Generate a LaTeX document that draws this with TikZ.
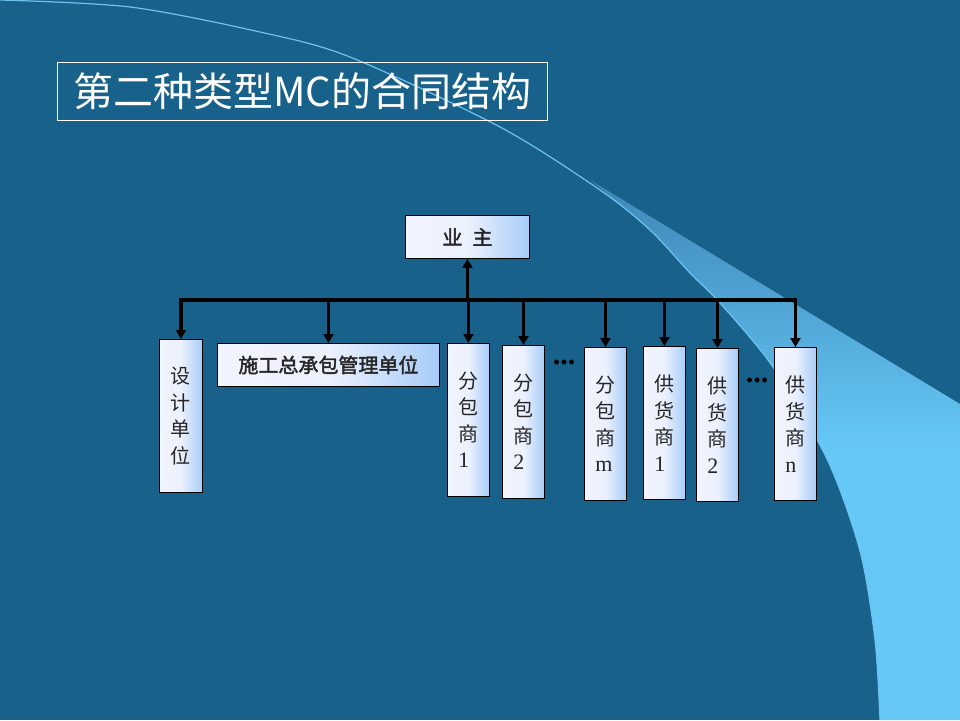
\documentclass[tikz,border=0pt]{standalone}
\usepackage{fontspec}
\setmainfont{Liberation Serif}
\newfontfamily\cjk{Noto Sans CJK SC}
\newfontfamily\cjkbold{Noto Sans CJK SC}[FakeBold=2]
\usetikzlibrary{arrows.meta,positioning,calc}

\definecolor{slidebg}{HTML}{17618A}
\definecolor{wedgemid}{HTML}{3E87B8}
\definecolor{wedgelight}{HTML}{66C8F7}
\definecolor{curveline}{HTML}{6CC4EE}
\definecolor{boxpale}{HTML}{F2F4FE}
\definecolor{boxblue}{HTML}{A6CCF8}

\begin{document}
\begin{tikzpicture}[
  x=1pt, y=-1pt,
  unit/.style={draw=black, line width=0.9pt, left color=boxpale, right color=boxblue,
    middle color=boxpale!92!boxblue, inner sep=0pt, text=black!85},
  tallbox/.style={unit, anchor=north west, minimum width=42pt, minimum height=153pt,
    font=\cjk\fontsize{20}{26.5}\selectfont, align=left, text width=20pt},
  widebox/.style={unit, anchor=north west, minimum height=43pt,
    font=\cjkbold\fontsize{20}{24}\selectfont},
  titlebox/.style={draw=white, line width=0.8pt, text=white, minimum width=490pt,
    minimum height=58pt, font=\cjk\fontsize{40}{44}\selectfont},
  dotsnode/.style={font=\bfseries\fontsize{30}{30}\selectfont, text=black, inner sep=0pt},
  arr/.style={line width=3.5pt, -{Triangle[length=9pt,width=10pt]}},
  busline/.style={line width=4pt, line cap=rect},
]
% slide background
\fill[slidebg] (0,0) rectangle (960,720);
\useasboundingbox (0,0) rectangle (960,720);
\shade[top color=wedgemid, bottom color=wedgelight, middle color=wedgelight]
  (590,180) -- (960,404) -- (960,720) -- (880,720)
  -- plot[smooth] coordinates {(880,720) (875,640) (860,551) (827,459) (773,367)
     (720,303) (690,273) (650,230) (590,180)} -- cycle;
\draw[curveline, line width=1.2pt] plot[smooth] coordinates {(0,0) (130,7) (260,32)
  (350,57) (500,127) (600,190) (650,230) (690,273) (720,303) (773,367) (827,459)
  (860,551) (875,640) (880,720)};

\node[titlebox] (title) at (302,91) {第二种类型MC的合同结构};

% owner and parties
\node[widebox, minimum width=124pt] (owner) at (405,215) {业\hspace{10pt}主};

\node[tallbox, minimum width=43pt] (dsgn) at (159,339) {设\\计\\单\\位};
\node[widebox, minimum width=222pt] (gc) at (217,343) {施工总承包管理单位};
\node[tallbox] (sub1) at (447,343) {分\\包\\商\\{\rmfamily\fontsize{22}{26}\selectfont 1}};
\node[tallbox] (sub2) at (502,345) {分\\包\\商\\{\rmfamily\fontsize{22}{26}\selectfont 2}};
\node[tallbox] (subm) at (584,347) {分\\包\\商\\{\rmfamily\fontsize{22}{26}\selectfont m}};
\node[tallbox] (sup1) at (643,346) {供\\货\\商\\{\rmfamily\fontsize{22}{26}\selectfont 1}};
\node[tallbox] (sup2) at (696,348) {供\\货\\商\\{\rmfamily\fontsize{22}{26}\selectfont 2}};
\node[tallbox] (supn) at (774,347) {供\\货\\商\\{\rmfamily\fontsize{22}{26}\selectfont n}};

\node[dotsnode] (dots1) at (564,362) {...};
\node[dotsnode] (dots2) at (757,380) {...};

% connectors
\coordinate (bus) at (469,300);
\draw[busline] (dsgn.north |- bus) -- (supn.north |- bus);
\draw[arr] (owner.south |- bus) -- (owner.south);
\foreach \n in {dsgn,gc,sub1,sub2,subm,sup1,sup2,supn}
  \draw[arr] (\n.north |- bus) -- (\n.north);
\end{tikzpicture}
\end{document}
